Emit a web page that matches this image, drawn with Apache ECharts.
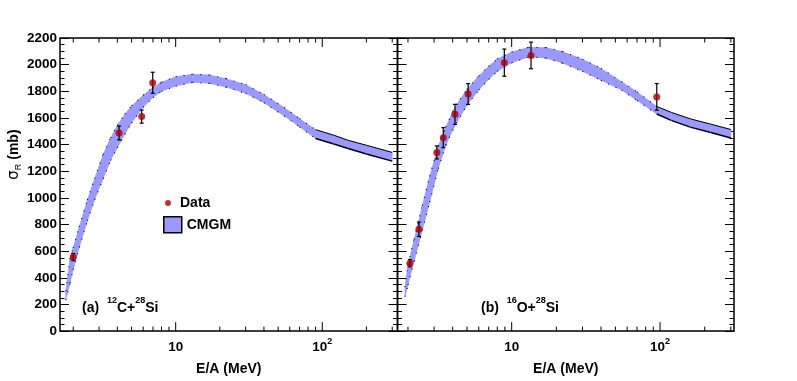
<!DOCTYPE html>
<html>
<head>
<meta charset="utf-8">
<script src="https://cdn.jsdelivr.net/npm/echarts@6/dist/echarts.min.js"></script>
<style>
html, body { margin: 0; padding: 0; background: #fff; }
#chart { width: 797px; height: 381px; }
</style>
</head>
<body>
<div id="chart"></div>
<script>
'use strict';

// panel (a) 12C+28Si : CMGM band edges (mb) on an E/A grid (MeV)
var energyA = [1.78, 1.9, 2.0, 2.2, 2.5, 2.8, 3.2, 3.6, 4, 4.5, 5, 6, 7, 8, 10, 13, 17, 22, 30, 40, 55, 70, 90, 120, 150, 200, 300];
var lowerA = [233, 361, 461, 629, 829, 986, 1144, 1282, 1377, 1478, 1563, 1680, 1753, 1800, 1839, 1867, 1860, 1832, 1785, 1714, 1615, 1533, 1445, 1405, 1370, 1330, 1276];
var upperA = [300, 540, 625, 783, 985, 1145, 1325, 1449, 1545, 1628, 1690, 1770, 1830, 1868, 1909, 1928, 1922, 1895, 1850, 1775, 1678, 1595, 1512, 1470, 1432, 1395, 1341];
// measured points, panel (a)
var dataEA = [2.0, 4.11, 5.86, 6.97];
var dataSA = [556, 1487, 1610, 1864];
var errA = [27, 52, 49, 79];

// panel (b) 16O+28Si
var energyB = [1.91, 2.0, 2.2, 2.5, 2.8, 3.2, 3.6, 4, 4.5, 5, 6, 7, 8, 10, 13, 17, 22, 30, 40, 55, 70, 95, 120, 160, 220, 300];
var lowerB = [259, 347, 526, 757, 968, 1220, 1397, 1507, 1610, 1695, 1810, 1890, 1950, 2015, 2058, 2050, 2012, 1950, 1882, 1810, 1731, 1630, 1580, 1531, 1490, 1449];
var upperB = [330, 498, 687, 942, 1161, 1389, 1531, 1648, 1741, 1815, 1915, 1988, 2042, 2095, 2130, 2128, 2098, 2040, 1972, 1872, 1795, 1686, 1640, 1593, 1553, 1513];
var dataEB = [2.06, 2.37, 3.13, 3.46, 4.15, 5.09, 8.92, 13.5, 95];
var dataSB = [510, 765, 1341, 1452, 1627, 1780, 2015, 2069, 1758];
var errB = [27, 54, 49, 75, 75, 78, 102, 100, 100];

// log axis ticks
var majorTicks = [10, 100];
var minorTicks = [2, 3, 4, 5, 6, 7, 8, 9, 20, 30, 40, 50, 60, 70, 80, 90, 200, 300];

var FONT = 'Liberation Sans';
var BAND = '#9999ff';
var RED = '#aa0000';

function tickRows() {
    var rows = [];
    majorTicks.forEach(function(v) { rows.push([v, 0, 1]); });
    minorTicks.forEach(function(v) { rows.push([v, 0, 0]); });
    return rows;
}

function renderTicks(params, api) {
    var len = api.value(2) ? 9 : 4.5;
    var b = api.coord([api.value(0), 0]);
    var t = api.coord([api.value(0), 2200]);
    var st = { stroke: '#000', lineWidth: 1 };
    return {
        type: 'group',
        children: [
            { type: 'line', shape: { x1: b[0], y1: b[1], x2: b[0], y2: b[1] - len }, style: st },
            { type: 'line', shape: { x1: t[0], y1: t[1], x2: t[0], y2: t[1] + len }, style: st }
        ]
    };
}

function renderErr(params, api) {
    var e = api.value(0), s = api.value(1), d = api.value(2);
    var lo = api.coord([e, s - d]);
    var hi = api.coord([e, s + d]);
    var st = { stroke: '#000', lineWidth: 1.2 };
    return {
        type: 'group',
        children: [
            { type: 'line', shape: { x1: lo[0], y1: lo[1], x2: hi[0], y2: hi[1] }, style: st },
            { type: 'line', shape: { x1: lo[0] - 2, y1: lo[1], x2: lo[0] + 2, y2: lo[1] }, style: st },
            { type: 'line', shape: { x1: hi[0] - 2, y1: hi[1], x2: hi[0] + 2, y2: hi[1] }, style: st }
        ]
    };
}

// one piece of the band between grid point i and i+1, with its two edges
function bandRenderer(energy, lower, upper, cut) {
    return function(params, api) {
        var i = params.dataIndex;
        if (i >= energy.length - 1) return null;
        var u0 = api.coord([energy[i], upper[i]]);
        var u1 = api.coord([energy[i + 1], upper[i + 1]]);
        var l0 = api.coord([energy[i], lower[i]]);
        var l1 = api.coord([energy[i + 1], lower[i + 1]]);
        var solid = energy[i] >= cut;
        var dash = solid ? null : [1, 7];
        return {
            type: 'group',
            children: [
                {
                    type: 'polygon', shape: { points: [u0, u1, l1, l0] },
                    style: { fill: BAND, stroke: BAND, lineWidth: 0.6 }
                },
                {
                    type: 'line', shape: { x1: u0[0], y1: u0[1], x2: u1[0], y2: u1[1] },
                    style: { stroke: '#000', lineWidth: solid ? 1.0 : 1.1, lineDash: dash }
                },
                {
                    type: 'line', shape: { x1: l0[0], y1: l0[1], x2: l1[0], y2: l1[1] },
                    style: { stroke: '#000', lineWidth: solid ? 1.5 : 1.1, lineDash: dash }
                }
            ]
        };
    };
}

function zip(xs, ys) {
    var out = [];
    for (var i = 0; i < xs.length; i++) out.push([xs[i], ys[i]]);
    return out;
}

function rows3(a, b, c) {
    var out = [];
    for (var i = 0; i < a.length; i++) out.push([a[i], b[i], c[i]]);
    return out;
}

function panelSeries(xi, yi, energy, lower, upper, cut, dE, dS, dErr) {
    return [
        {
            name: 'CMGM', type: 'custom', xAxisIndex: xi, yAxisIndex: yi, z: 2,
            itemStyle: { color: BAND }, silent: true,
            renderItem: bandRenderer(energy, lower, upper, cut),
            encode: { x: 0, y: 1 },
            data: rows3(energy, lower, upper)
        },
        {
            type: 'custom', xAxisIndex: xi, yAxisIndex: yi, z: 4, silent: true,
            renderItem: renderErr, encode: { x: 0, y: 1 }, data: rows3(dE, dS, dErr)
        },
        {
            name: 'Data', type: 'scatter', xAxisIndex: xi, yAxisIndex: yi, z: 5,
            symbol: 'circle', symbolSize: 7, itemStyle: { color: RED },
            data: zip(dE, dS)
        },
        {
            type: 'custom', xAxisIndex: xi, yAxisIndex: yi, z: 6, silent: true,
            renderItem: renderTicks, encode: { x: 0, y: 1 }, data: tickRows()
        }
    ];
}

function xLabel(v) {
    var l = Math.log(v) / Math.LN10;
    if (Math.abs(l - Math.round(l)) > 1e-6) return '';
    var p = Math.round(l);
    if (p === 1) return '10';
    return '10{sup|' + p + '}';
}

function xAxis(grid, min, max) {
    return {
        type: 'log', logBase: 10, gridIndex: grid, min: min, max: max,
        axisLine: { show: false }, axisTick: { show: false }, splitLine: { show: false },
        axisLabel: {
            formatter: xLabel, margin: 6, color: '#000',
            fontFamily: FONT, fontWeight: 'bold', fontSize: 13.5, lineHeight: 20,
            rich: { sup: { fontFamily: FONT, fontWeight: 'bold', fontSize: 9, lineHeight: 9, verticalAlign: 'top', color: '#000' } }
        },
        name: 'E/A (MeV)', nameLocation: 'middle', nameGap: 22,
        nameTextStyle: { fontFamily: FONT, fontWeight: 'bold', fontSize: 14, color: '#000' }
    };
}

function yAxis(grid, side, labels) {
    var ax = {
        type: 'value', gridIndex: grid, position: side, min: 0, max: 2200, interval: 200,
        axisLine: { show: false }, splitLine: { show: false },
        axisTick: { show: true, inside: true, length: 9, lineStyle: { color: '#000', width: 1 } },
        minorTick: { show: true, splitNumber: 4, length: 4.5, lineStyle: { color: '#000', width: 1 } },
        axisLabel: {
            show: labels, margin: 3, color: '#000',
            fontFamily: FONT, fontWeight: 'bold', fontSize: 13.5,
            formatter: function(v) { return String(v); }
        }
    };
    if (labels) {
        ax.name = '{s|σ}{r|R}{t| (mb)}';
        ax.nameLocation = 'middle';
        ax.nameGap = 31;
        ax.nameTextStyle = {
            padding: [0, 0, 0, 60],
            rich: {
                s: { fontFamily: 'DejaVu Sans', fontSize: 15, lineHeight: 18, color: '#000' },
                r: { fontFamily: FONT, fontSize: 9, lineHeight: 9, verticalAlign: 'bottom', color: '#000' },
                t: { fontFamily: FONT, fontWeight: 'bold', fontSize: 14, lineHeight: 18, color: '#000' }
            }
        };
    }
    return ax;
}

var labelRich = {
    b: { fontFamily: FONT, fontWeight: 'bold', fontSize: 14, lineHeight: 24, color: '#000' },
    s: { fontFamily: FONT, fontWeight: 'bold', fontSize: 9, lineHeight: 10, verticalAlign: 'top', color: '#000' }
};

var legendText = { fontFamily: FONT, fontWeight: 'bold', fontSize: 14, color: '#000' };

var option = {
    animation: false,
    backgroundColor: '#fff',
    title: [
        { text: '{b|(a)  }{s|12}{b|C+}{s|28}{b|Si}', left: 82, top: 296, padding: 0, textStyle: { rich: labelRich } },
        { text: '{b|(b)  }{s|16}{b|O+}{s|28}{b|Si}', left: 481, top: 296, padding: 0, textStyle: { rich: labelRich } }
    ],
    legend: [
        {
            data: [{ name: 'Data', icon: 'circle' }], left: 165, top: 196, padding: 0,
            itemWidth: 14, itemHeight: 6, selectedMode: false, textStyle: legendText
        },
        {
            data: [{ name: 'CMGM', icon: 'rect', itemStyle: { color: BAND, borderColor: '#000', borderWidth: 1.5 } }],
            left: 163, top: 216, padding: 0,
            itemWidth: 18, itemHeight: 16, selectedMode: false, textStyle: legendText
        }
    ],
    grid: [
        { left: 60, top: 38, width: 337.5, height: 297, show: true, borderColor: '#000', borderWidth: 1.5, backgroundColor: 'transparent' },
        { left: 397.5, top: 38, width: 336.5, height: 297, show: true, borderColor: '#000', borderWidth: 1.5, backgroundColor: 'transparent' }
    ],
    xAxis: [xAxis(0, 1.625, 326), xAxis(1, 1.70, 315)],
    yAxis: [yAxis(0, 'left', true), yAxis(0, 'right', false), yAxis(1, 'left', false), yAxis(1, 'right', false)],
    series: panelSeries(0, 0, energyA, lowerA, upperA, 90, dataEA, dataSA, errA)
        .concat(panelSeries(1, 2, energyB, lowerB, upperB, 95, dataEB, dataSB, errB))
};

var myChart = echarts.init(document.getElementById('chart'), null, { renderer: 'canvas' });
myChart.setOption(option);
</script>
</body>
</html>
